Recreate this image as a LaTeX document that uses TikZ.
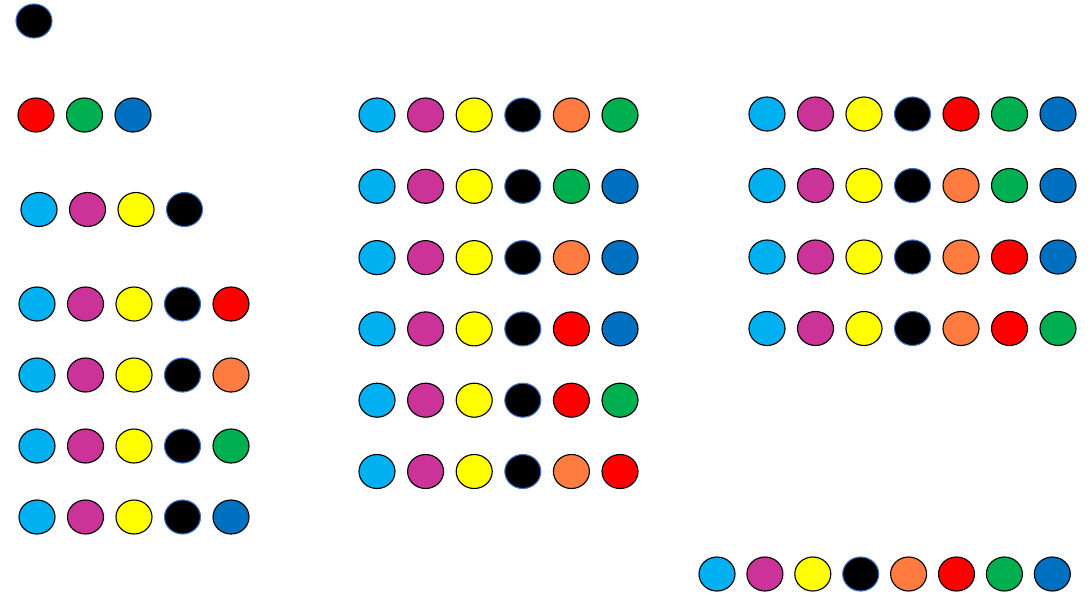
\documentclass[tikz,border=0pt]{standalone}
\usetikzlibrary{shapes.geometric}

\definecolor{beadcyan}{HTML}{00B0F0}
\definecolor{beadmag}{HTML}{CC3399}
\definecolor{beadyel}{HTML}{FFFF00}
\definecolor{beadorg}{HTML}{FF7C40}
\definecolor{beadred}{HTML}{FF0000}
\definecolor{beadgrn}{HTML}{00B050}
\definecolor{beadblu}{HTML}{0070C0}
\definecolor{beadrim}{HTML}{4472C4}

\tikzset{
	bead/.style={ellipse, draw=black, line width=0.8pt, inner sep=0pt, minimum width=0.9cm, minimum height=0.85cm},
	cyanb/.style={fill=beadcyan},
	magb/.style={fill=beadmag},
	yelb/.style={fill=beadyel},
	blkb/.style={fill=black, draw=beadrim},
	orgb/.style={fill=beadorg},
	redb/.style={fill=beadred},
	grnb/.style={fill=beadgrn},
	blub/.style={fill=beadblu}
}

\begin{document}
\begin{tikzpicture}[x=0.025cm, y=-0.025cm]
	\useasboundingbox (0,0) rectangle (1089,593);
	% one, three and four beads
	\node[bead, blkb] (top) at (34,21) {};
	\foreach \s [count=\k] in {redb,grnb,blub}
		\node[bead, \s] (three-\k) at ({36+48.5*(\k-1)},115) {};
	\foreach \s [count=\k] in {cyanb,magb,yelb,blkb}
		\node[bead, \s] (four-\k) at ({39+48.5*(\k-1)},209.5) {};
	% rows of five
	\foreach \y/\last [count=\j] in {304/redb, 375/orgb, 446/grnb, 517/blub} {
		\foreach \s [count=\k] in {cyanb,magb,yelb,blkb,\last}
			\node[bead, \s] (five\j-\k) at ({37+48.5*(\k-1)},\y) {};
	}
	% rows of six
	\foreach \pa/\pb [count=\j] in {orgb/grnb, grnb/blub, orgb/blub, redb/blub, redb/grnb, orgb/redb} {
		\foreach \s [count=\k] in {cyanb,magb,yelb,blkb,\pa,\pb}
			\node[bead, \s] (six\j-\k) at ({377+48.6*(\k-1)},{115+71.3*(\j-1)}) {};
	}
	% rows of seven
	\foreach \pa/\pb/\pc [count=\j] in {redb/grnb/blub, orgb/grnb/blub, orgb/redb/blub, orgb/redb/grnb} {
		\foreach \s [count=\k] in {cyanb,magb,yelb,blkb,\pa,\pb,\pc}
			\node[bead, \s] (seven\j-\k) at ({767+48.5*(\k-1)},{114+71.5*(\j-1)}) {};
	}
	% all eight
	\foreach \s [count=\k] in {cyanb,magb,yelb,blkb,orgb,redb,grnb,blub}
		\node[bead, \s] (eight-\k) at ({717+47.9*(\k-1)},574) {};
\end{tikzpicture}
\end{document}
